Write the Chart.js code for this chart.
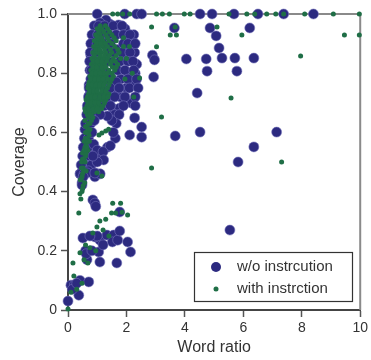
<!DOCTYPE html>
<html>
<head>
<meta charset="utf-8">
<script src="https://cdn.jsdelivr.net/npm/chart.js@4.4.1/dist/chart.umd.min.js"></script>
<style>
  html, body { margin: 0; padding: 0; background: #fff; }
  canvas { display: block; }
</style>
</head>
<body>
<canvas id="chart" width="371" height="360"></canvas>
<script>
// axis ticks
var xTicks = [0, 2, 4, 6, 8, 10];
var yTicks = [0, 0.2, 0.4, 0.6, 0.8, 1.0];

var seriesLabels = ["w/o instrcution", "with instrction"];

// w/o instruction: [word ratio, coverage]
var woPoints = [
    // top row
    [1.0, 1], [1.94, 1], [2.35, 1], [2.52, 1], [4.52, 1], [4.93, 1], [5.68, 1], [6.5, 1], [7.38, 1], [8.4, 1],
    // sparse right side
    [3.64, 0.953], [4.86, 0.953], [5.07, 0.926], [6.22, 0.953], [5.17, 0.885], [2.89, 0.861], [2.96, 0.845],
    [4.05, 0.848], [4.73, 0.848], [5.27, 0.851], [5.71, 0.851], [6.36, 0.851], [4.76, 0.807], [5.78, 0.807],
    [2.93, 0.787], [4.42, 0.733], [3.67, 0.588], [4.52, 0.601], [7.14, 0.601], [6.36, 0.551], [5.82, 0.5],
    [5.54, 0.27],
    // dense upper cluster
    [0.75, 0.81], [0.75, 0.73], [0.68, 0.68], [0.75, 0.6], [0.65, 0.52], [0.41, 0.46], [0.58, 0.61],
    [0.78, 0.86], [0.8, 0.9], [0.88, 0.93], [0.98, 0.95], [1.19, 0.956], [1.43, 0.966], [1.73, 0.963],
    [1.3, 0.98], [1.1, 0.97], [2.04, 0.932], [2.18, 0.9], [2.28, 0.87], [2.35, 0.83], [2.3, 0.8],
    [2.2, 0.77], [2.0, 0.75], [1.8, 0.72], [1.6, 0.74], [2.1, 0.8], [1.9, 0.85], [1.7, 0.88], [1.5, 0.92],
    [2.0, 0.88], [2.21, 0.7], [1.3, 0.8], [1.5, 0.78], [1.6, 0.83], [1.8, 0.78], [1.4, 0.7], [1.2, 0.72],
    [1.1, 0.69], [1.55, 0.68], [1.77, 0.682], [2.18, 0.699], [2.28, 0.649], [2.52, 0.618], [2.11, 0.591],
    [2.52, 0.584], [1.95, 0.95], [2.25, 0.93], [0.72, 0.76], [0.7, 0.64], [0.62, 0.56], [0.55, 0.49],
    [0.85, 0.76], [0.9, 0.83], [1.0, 0.7], [0.9, 0.68],
    [0.9, 0.96], [1.05, 0.96], [1.25, 0.96], [1.55, 0.96], [1.85, 0.96],
    [0.82, 0.93], [1.02, 0.93], [1.2, 0.93], [1.4, 0.93], [1.65, 0.93], [1.9, 0.93], [2.12, 0.93],
    [0.78, 0.9], [1.0, 0.9], [1.25, 0.9], [1.45, 0.9], [1.9, 0.9], [2.05, 0.9], [2.3, 0.9],
    [0.76, 0.87], [0.95, 0.87], [1.4, 0.87], [1.6, 0.87], [1.85, 0.87], [2.12, 0.87],
    [0.74, 0.84], [1.05, 0.84], [1.35, 0.84], [1.78, 0.84], [2.05, 0.84], [2.22, 0.84],
    [0.8, 0.81], [1.1, 0.81], [1.7, 0.81], [1.95, 0.81], [2.25, 0.81],
    [0.78, 0.78], [1.1, 0.78], [1.4, 0.78], [1.65, 0.77], [2.05, 0.78], [2.35, 0.78],
    [0.72, 0.75], [1.25, 0.75], [1.45, 0.75], [1.75, 0.75], [2.1, 0.75], [2.4, 0.75],
    [0.7, 0.72], [0.95, 0.72], [1.35, 0.72], [1.6, 0.72], [1.95, 0.72], [2.3, 0.72],
    [0.66, 0.69], [1.25, 0.69], [1.45, 0.69], [1.9, 0.69], [2.3, 0.69],
    [0.64, 0.66], [0.8, 0.66], [1.6, 0.66], [1.75, 0.66],
    [0.6, 0.63], [0.78, 0.63], [1.65, 0.63],
    [0.56, 0.58], [0.7, 0.58], [1.62, 0.58],
    [0.52, 0.55], [0.7, 0.55], [1.35, 0.55],
    [0.5, 0.52], [0.75, 0.52], [1.1, 0.52],
    [0.45, 0.49], [0.8, 0.49], [0.42, 0.46], [0.55, 0.46], [1.0, 0.46],
    // ring around the gap
    [1.55, 0.6], [1.5, 0.64], [1.35, 0.655], [1.1, 0.66], [0.9, 0.64], [0.82, 0.6], [0.88, 0.56],
    [1.0, 0.54], [1.2, 0.535], [1.45, 0.555], [1.22, 0.507], [1.0, 0.5], [0.85, 0.52],
    // middle
    [0.48, 0.43], [0.92, 0.45], [1.1, 0.46], [0.7, 0.47], [0.65, 0.463], [0.92, 0.463], [0.52, 0.45],
    [0.85, 0.372], [0.92, 0.361], [0.95, 0.35], [0.48, 0.422],
    // lower cluster
    [0.0, 0.03], [0.1, 0.084], [0.22, 0.085], [0.41, 0.1], [0.37, 0.05], [0.71, 0.095], [0.15, 0.07], [0.3, 0.09],
    [0.51, 0.243], [0.6, 0.2], [0.65, 0.17], [0.62, 0.19], [1.09, 0.236], [0.92, 0.247], [1.05, 0.196],
    [0.82, 0.2], [1.09, 0.162], [1.33, 0.253], [1.56, 0.253], [1.52, 0.23], [1.7, 0.236], [1.77, 0.267],
    [1.67, 0.159], [2.04, 0.23], [2.14, 0.196], [1.77, 0.331], [1.0, 0.25], [1.2, 0.22], [0.75, 0.25]
];

// with instruction: [word ratio, coverage]
var withPoints = [
    // top row
    [1.53, 1], [1.7, 1], [1.87, 1], [2.11, 1], [3.03, 1], [3.23, 1], [3.47, 1], [3.98, 1], [4.18, 1],
    [5.51, 1], [6.12, 1], [6.39, 1], [6.8, 1], [7.11, 1], [7.38, 1], [8.1, 1], [9.08, 1], [9.97, 1],
    // sparse
    [5.1, 0.956], [5.95, 0.929], [9.46, 0.929], [9.97, 0.929], [7.96, 0.858], [5.58, 0.716], [7.31, 0.5],
    [2.86, 0.956], [3.5, 0.929], [3.71, 0.929], [3.03, 0.889], [3.2, 0.652], [2.86, 0.48], [2.45, 0.784],
    [3.67, 0.956],
    // dense upper column
    [0.6, 0.67], [0.75, 0.67], [0.9, 0.67], [1.05, 0.67],
    [0.65, 0.69], [0.8, 0.69], [0.95, 0.69], [1.1, 0.69], [1.2, 0.69],
    [0.62, 0.71], [0.72, 0.71], [0.85, 0.71], [1.0, 0.71], [1.15, 0.71], [1.3, 0.71],
    [0.7, 0.73], [0.82, 0.73], [0.95, 0.73], [1.08, 0.73], [1.25, 0.73], [1.4, 0.73],
    [0.68, 0.75], [0.78, 0.75], [0.9, 0.75], [1.02, 0.75], [1.18, 0.75], [1.35, 0.75],
    [0.72, 0.77], [0.85, 0.77], [0.98, 0.77], [1.12, 0.77], [1.28, 0.77], [1.45, 0.77],
    [0.75, 0.79], [0.88, 0.79], [1.0, 0.79], [1.15, 0.79], [1.3, 0.79], [1.55, 0.79],
    [0.78, 0.81], [0.9, 0.81], [1.05, 0.81], [1.2, 0.81], [1.4, 0.81], [1.6, 0.81],
    [0.8, 0.83], [0.95, 0.83], [1.1, 0.83], [1.25, 0.83], [1.45, 0.83], [1.7, 0.83],
    [0.82, 0.85], [0.92, 0.85], [1.05, 0.85], [1.2, 0.85], [1.35, 0.85], [1.55, 0.85], [1.8, 0.85],
    [0.85, 0.87], [1.0, 0.87], [1.15, 0.87], [1.3, 0.87], [1.5, 0.87], [1.75, 0.87],
    [0.88, 0.89], [1.02, 0.89], [1.18, 0.89], [1.35, 0.89], [1.6, 0.89], [1.9, 0.89],
    [0.9, 0.91], [1.05, 0.91], [1.2, 0.91], [1.4, 0.91], [1.65, 0.91],
    [0.95, 0.93], [1.1, 0.93], [1.3, 0.93], [1.5, 0.93],
    [1.0, 0.95], [1.15, 0.95], [1.35, 0.95],
    [0.58, 0.68], [0.7, 0.68], [0.86, 0.68], [1.0, 0.68], [1.15, 0.68],
    [0.68, 0.7], [0.78, 0.7], [0.92, 0.7], [1.05, 0.7], [1.25, 0.7],
    [0.66, 0.72], [0.8, 0.72], [0.92, 0.72], [1.08, 0.72], [1.22, 0.72], [1.36, 0.72],
    [0.74, 0.74], [0.88, 0.74], [1.0, 0.74], [1.15, 0.74], [1.3, 0.74],
    [0.7, 0.76], [0.82, 0.76], [0.95, 0.76], [1.08, 0.76], [1.22, 0.76], [1.4, 0.76],
    [0.78, 0.78], [0.92, 0.78], [1.05, 0.78], [1.2, 0.78], [1.36, 0.78], [1.5, 0.78],
    [0.82, 0.8], [0.95, 0.8], [1.1, 0.8], [1.25, 0.8], [1.35, 0.8], [1.5, 0.8],
    [0.85, 0.82], [0.98, 0.82], [1.15, 0.82], [1.3, 0.82], [1.52, 0.82], [1.65, 0.82],
    [0.86, 0.84], [1.0, 0.84], [1.15, 0.84], [1.32, 0.84], [1.5, 0.84], [1.62, 0.84],
    [0.9, 0.86], [1.1, 0.86], [1.25, 0.86], [1.42, 0.86], [1.65, 0.86],
    [0.94, 0.88], [1.08, 0.88], [1.25, 0.88], [1.45, 0.88], [1.7, 0.88],
    [0.97, 0.9], [1.12, 0.9], [1.28, 0.9], [1.5, 0.9],
    [1.0, 0.92], [1.15, 0.92], [1.35, 0.92], [1.58, 0.92],
    [1.05, 0.94], [1.22, 0.94], [1.42, 0.94],
    [1.1, 0.96], [1.28, 0.96],
    [2.2, 0.8], [2.25, 0.72], [2.0, 0.85], [1.95, 0.78], [1.9, 0.92], [2.1, 0.89],
    // middle column
    [0.45, 0.44], [0.5, 0.46], [0.52, 0.48], [0.47, 0.5], [0.55, 0.51], [0.6, 0.52], [0.5, 0.53],
    [0.58, 0.55], [0.62, 0.56], [0.55, 0.57], [0.66, 0.58], [0.6, 0.6], [0.7, 0.6], [0.65, 0.62],
    [0.75, 0.63], [0.58, 0.64], [0.7, 0.65], [0.8, 0.66], [0.62, 0.47], [0.57, 0.43], [0.68, 0.54],
    [0.73, 0.57], [1.16, 0.598], [1.29, 0.605], [1.39, 0.611], [1.06, 0.591], [0.52, 0.42],
    [0.48, 0.45], [0.54, 0.47], [0.58, 0.5], [0.5, 0.51], [0.62, 0.53], [0.55, 0.54], [0.64, 0.55],
    [0.68, 0.57], [0.6, 0.58], [0.72, 0.59], [0.64, 0.6], [0.68, 0.61], [0.75, 0.61], [0.6, 0.62],
    [0.7, 0.63], [0.8, 0.64], [0.66, 0.66], [0.74, 0.66], [0.85, 0.65], [0.46, 0.48], [0.42, 0.44],
    [0.5, 0.41],
    // lower
    [0, 0.003], [0.17, 0.159], [0.2, 0.115], [0.48, 0.09], [0.3, 0.07], [0.1, 0.06], [0.37, 0.328],
    [0.44, 0.375], [0.41, 0.393], [0.48, 0.4], [1.09, 0.301], [1.29, 0.307], [1.53, 0.361], [1.8, 0.361],
    [1.63, 0.328], [1.49, 0.328], [2.04, 0.321], [0.99, 0.28], [0.41, 0.193], [0.68, 0.159], [1.16, 0.453],
    [0.99, 0.463], [0.6, 0.22], [0.85, 0.26], [1.2, 0.27], [1.4, 0.25], [0.55, 0.17], [0.95, 0.2],
    [1.85, 0.33], [0.75, 0.21]
];

var navy = "#2c2a80";
var green = "#1f6e46";
var textColor = "#333333";

function toXY(list) {
    return list.map(function(p) { return { x: p[0], y: p[1] }; });
}

// frame on top and right + legend inside the plot
var framePlugin = {
    id: "frame",
    beforeDatasetsDraw: function(chart) {
        var a = chart.chartArea;
        var c = chart.ctx;
        c.save();
        c.strokeStyle = "#8a8a8a";
        c.lineWidth = 2;
        c.beginPath();
        c.moveTo(a.left, a.top);
        c.lineTo(a.right, a.top);
        c.lineTo(a.right, a.bottom);
        c.stroke();
        c.restore();
    },
    afterDraw: function(chart) {
        var c = chart.ctx;
        c.save();
        c.fillStyle = "#fff";
        c.fillRect(194, 252, 158, 49);
        c.strokeStyle = "#333";
        c.lineWidth = 1.2;
        c.strokeRect(194.5, 252.5, 158, 49);
        c.font = "15px 'Liberation Sans', Arial, sans-serif";
        c.textBaseline = "middle";
        c.fillStyle = navy;
        c.beginPath();
        c.arc(216, 267, 5, 0, Math.PI * 2);
        c.fill();
        c.fillStyle = green;
        c.beginPath();
        c.arc(216, 289, 2.5, 0, Math.PI * 2);
        c.fill();
        c.fillStyle = textColor;
        c.fillText(seriesLabels[0], 237, 267);
        c.fillText(seriesLabels[1], 237, 289);
        c.restore();
    }
};

var ctx = document.getElementById("chart");
var myChart = new Chart(ctx, {
    type: "scatter",
    data: {
        datasets: [{
            label: seriesLabels[0],
            data: toXY(woPoints),
            backgroundColor: navy,
            borderColor: "rgba(120,118,190,0.55)",
            borderWidth: 1,
            pointRadius: 5,
            order: 2,
            clip: false
        },
        {
            label: seriesLabels[1],
            data: toXY(withPoints),
            backgroundColor: green,
            borderWidth: 0,
            pointRadius: 2.5,
            order: 1,
            clip: false
        }]
    },
    options: {
        responsive: false,
        animation: false,
        devicePixelRatio: 1,
        layout: { padding: { top: 14, right: 9, left: 0, bottom: 0 } },
        plugins: {
            legend: { display: false },
            tooltip: { enabled: false }
        },
        scales: {
            x: {
                type: "linear",
                min: 0,
                max: 10,
                afterFit: function(s) { s.height = 50; },
                afterBuildTicks: function(s) { s.ticks = xTicks.map(function(v) { return { value: v }; }); },
                ticks: {
                    color: textColor,
                    padding: 3,
                    font: { size: 14, family: "'Liberation Sans', Arial, sans-serif" },
                    callback: function(v) { return String(v); }
                },
                grid: { drawOnChartArea: false, drawTicks: true, tickLength: 7, color: "#555", tickWidth: 1.5 },
                border: { display: true, color: "#444", width: 2 },
                title: {
                    display: true,
                    text: "Word ratio",
                    color: textColor,
                    padding: { top: 0, bottom: 3 },
                    font: { size: 16, family: "'Liberation Sans', Arial, sans-serif" }
                }
            },
            y: {
                type: "linear",
                min: 0,
                max: 1,
                afterFit: function(s) { s.width = 68; },
                afterBuildTicks: function(s) { s.ticks = yTicks.map(function(v) { return { value: v }; }); },
                ticks: {
                    color: textColor,
                    padding: 4,
                    font: { size: 14, family: "'Liberation Sans', Arial, sans-serif" },
                    callback: function(v) { return v === 0 ? "0" : v.toFixed(1); }
                },
                grid: { drawOnChartArea: false, drawTicks: true, tickLength: 7, color: "#555", tickWidth: 1.5 },
                border: { display: true, color: "#444", width: 2 },
                title: {
                    display: true,
                    text: "Coverage",
                    color: textColor,
                    padding: { top: 10, bottom: 0 },
                    font: { size: 16, family: "'Liberation Sans', Arial, sans-serif" }
                }
            }
        }
    },
    plugins: [framePlugin]
});
</script>
</body>
</html>
